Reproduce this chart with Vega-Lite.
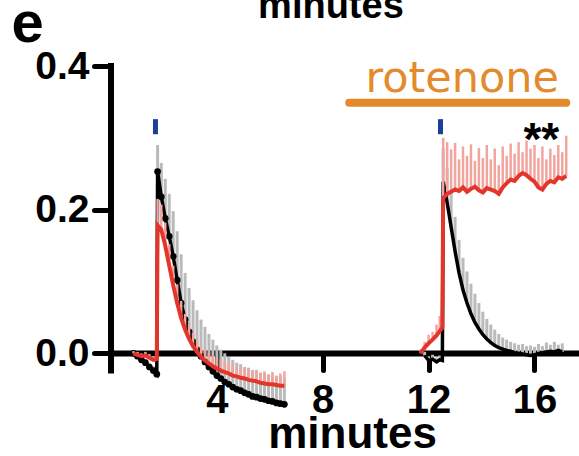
{
"$schema": "https://vega.github.io/schema/vega-lite/v6.json",
"width": 469, "height": 352,
"autosize": {"type": "none"},
"padding": {"left": 111, "top": 66, "right": 0, "bottom": 38},
"background": "white",
"config": {"view": {"stroke": null}, "font": "Liberation Sans"},
"datasets": {
"trace": [
{"s":"control","g":1,"t":0.85,"m":0.0,"u":0.004},
{"s":"control","g":1,"t":1.0,"m":-0.004,"u":0.001},
{"s":"control","g":1,"t":1.15,"m":-0.009,"u":-0.004},
{"s":"control","g":1,"t":1.3,"m":-0.013,"u":-0.008},
{"s":"control","g":1,"t":1.45,"m":-0.019,"u":-0.013},
{"s":"control","g":1,"t":1.6,"m":-0.024,"u":-0.018},
{"s":"control","g":1,"t":1.73,"m":-0.029,"u":-0.022},
{"s":"control","g":1,"t":1.76,"m":0.253,"u":0.29},
{"s":"control","g":1,"t":1.9,"m":0.218,"u":0.265},
{"s":"control","g":1,"t":2.05,"m":0.188,"u":0.243},
{"s":"control","g":1,"t":2.2,"m":0.163,"u":0.222},
{"s":"control","g":1,"t":2.35,"m":0.135,"u":0.198},
{"s":"control","g":1,"t":2.5,"m":0.102,"u":0.17},
{"s":"control","g":1,"t":2.65,"m":0.07,"u":0.138},
{"s":"control","g":1,"t":2.8,"m":0.047,"u":0.112},
{"s":"control","g":1,"t":2.95,"m":0.03,"u":0.091},
{"s":"control","g":1,"t":3.1,"m":0.016,"u":0.074},
{"s":"control","g":1,"t":3.25,"m":0.005,"u":0.06},
{"s":"control","g":1,"t":3.4,"m":-0.004,"u":0.047},
{"s":"control","g":1,"t":3.55,"m":-0.012,"u":0.037},
{"s":"control","g":1,"t":3.7,"m":-0.019,"u":0.027},
{"s":"control","g":1,"t":3.85,"m":-0.025,"u":0.019},
{"s":"control","g":1,"t":4.0,"m":-0.031,"u":0.011},
{"s":"control","g":1,"t":4.15,"m":-0.035,"u":0.005},
{"s":"control","g":1,"t":4.3,"m":-0.04,"u":0.0},
{"s":"control","g":1,"t":4.45,"m":-0.043,"u":-0.005},
{"s":"control","g":1,"t":4.6,"m":-0.047,"u":-0.009},
{"s":"control","g":1,"t":4.75,"m":-0.05,"u":-0.013},
{"s":"control","g":1,"t":4.9,"m":-0.052,"u":-0.015},
{"s":"control","g":1,"t":5.05,"m":-0.055,"u":-0.019},
{"s":"control","g":1,"t":5.2,"m":-0.057,"u":-0.02},
{"s":"control","g":1,"t":5.35,"m":-0.06,"u":-0.023},
{"s":"control","g":1,"t":5.5,"m":-0.061,"u":-0.024},
{"s":"control","g":1,"t":5.65,"m":-0.063,"u":-0.027},
{"s":"control","g":1,"t":5.8,"m":-0.064,"u":-0.027},
{"s":"control","g":1,"t":5.95,"m":-0.066,"u":-0.03},
{"s":"control","g":1,"t":6.1,"m":-0.067,"u":-0.03},
{"s":"control","g":1,"t":6.25,"m":-0.069,"u":-0.032},
{"s":"control","g":1,"t":6.4,"m":-0.07,"u":-0.032},
{"s":"control","g":1,"t":6.55,"m":-0.071,"u":-0.034},
{"s":"rotenone","g":1,"t":0.85,"m":0.0,"u":0.003},
{"s":"rotenone","g":1,"t":1.0,"m":-0.002,"u":0.002},
{"s":"rotenone","g":1,"t":1.15,"m":-0.004,"u":0.0},
{"s":"rotenone","g":1,"t":1.3,"m":-0.003,"u":0.002},
{"s":"rotenone","g":1,"t":1.45,"m":-0.006,"u":-0.001},
{"s":"rotenone","g":1,"t":1.6,"m":-0.009,"u":-0.004},
{"s":"rotenone","g":1,"t":1.73,"m":-0.008,"u":-0.002},
{"s":"rotenone","g":1,"t":1.76,"m":0.178,"u":0.215},
{"s":"rotenone","g":1,"t":1.9,"m":0.172,"u":0.207},
{"s":"rotenone","g":1,"t":2.05,"m":0.15,"u":0.182},
{"s":"rotenone","g":1,"t":2.2,"m":0.122,"u":0.152},
{"s":"rotenone","g":1,"t":2.35,"m":0.095,"u":0.122},
{"s":"rotenone","g":1,"t":2.5,"m":0.07,"u":0.096},
{"s":"rotenone","g":1,"t":2.65,"m":0.049,"u":0.073},
{"s":"rotenone","g":1,"t":2.8,"m":0.033,"u":0.055},
{"s":"rotenone","g":1,"t":2.95,"m":0.02,"u":0.041},
{"s":"rotenone","g":1,"t":3.1,"m":0.01,"u":0.028},
{"s":"rotenone","g":1,"t":3.25,"m":0.002,"u":0.019},
{"s":"rotenone","g":1,"t":3.4,"m":-0.005,"u":0.011},
{"s":"rotenone","g":1,"t":3.55,"m":-0.01,"u":0.005},
{"s":"rotenone","g":1,"t":3.7,"m":-0.014,"u":0.001},
{"s":"rotenone","g":1,"t":3.85,"m":-0.018,"u":-0.003},
{"s":"rotenone","g":1,"t":4.0,"m":-0.021,"u":-0.006},
{"s":"rotenone","g":1,"t":4.15,"m":-0.024,"u":-0.009},
{"s":"rotenone","g":1,"t":4.3,"m":-0.026,"u":-0.012},
{"s":"rotenone","g":1,"t":4.45,"m":-0.028,"u":-0.014},
{"s":"rotenone","g":1,"t":4.6,"m":-0.031,"u":-0.016},
{"s":"rotenone","g":1,"t":4.75,"m":-0.032,"u":-0.019},
{"s":"rotenone","g":1,"t":4.9,"m":-0.034,"u":-0.018},
{"s":"rotenone","g":1,"t":5.05,"m":-0.035,"u":-0.022},
{"s":"rotenone","g":1,"t":5.2,"m":-0.037,"u":-0.021},
{"s":"rotenone","g":1,"t":5.35,"m":-0.038,"u":-0.025},
{"s":"rotenone","g":1,"t":5.5,"m":-0.039,"u":-0.023},
{"s":"rotenone","g":1,"t":5.65,"m":-0.041,"u":-0.027},
{"s":"rotenone","g":1,"t":5.8,"m":-0.042,"u":-0.025},
{"s":"rotenone","g":1,"t":5.95,"m":-0.043,"u":-0.029},
{"s":"rotenone","g":1,"t":6.1,"m":-0.043,"u":-0.026},
{"s":"rotenone","g":1,"t":6.25,"m":-0.044,"u":-0.031},
{"s":"rotenone","g":1,"t":6.4,"m":-0.045,"u":-0.028},
{"s":"rotenone","g":1,"t":6.55,"m":-0.045,"u":-0.025},
{"s":"control","g":2,"t":11.85,"m":-0.003,"u":0.002},
{"s":"control","g":2,"t":12.0,"m":-0.01,"u":-0.004},
{"s":"control","g":2,"t":12.15,"m":-0.008,"u":-0.002},
{"s":"control","g":2,"t":12.3,"m":-0.012,"u":-0.006},
{"s":"control","g":2,"t":12.42,"m":-0.009,"u":-0.003},
{"s":"control","g":2,"t":12.52,"m":-0.01,"u":-0.004},
{"s":"control","g":2,"t":12.55,"m":0.239,"u":0.285},
{"s":"control","g":2,"t":12.7,"m":0.21,"u":0.258},
{"s":"control","g":2,"t":12.85,"m":0.176,"u":0.224},
{"s":"control","g":2,"t":13.0,"m":0.142,"u":0.19},
{"s":"control","g":2,"t":13.15,"m":0.112,"u":0.158},
{"s":"control","g":2,"t":13.3,"m":0.088,"u":0.133},
{"s":"control","g":2,"t":13.45,"m":0.07,"u":0.114},
{"s":"control","g":2,"t":13.6,"m":0.055,"u":0.097},
{"s":"control","g":2,"t":13.75,"m":0.043,"u":0.083},
{"s":"control","g":2,"t":13.9,"m":0.034,"u":0.07},
{"s":"control","g":2,"t":14.05,"m":0.026,"u":0.058},
{"s":"control","g":2,"t":14.2,"m":0.02,"u":0.048},
{"s":"control","g":2,"t":14.35,"m":0.015,"u":0.04},
{"s":"control","g":2,"t":14.5,"m":0.011,"u":0.033},
{"s":"control","g":2,"t":14.65,"m":0.008,"u":0.027},
{"s":"control","g":2,"t":14.8,"m":0.006,"u":0.022},
{"s":"control","g":2,"t":14.95,"m":0.004,"u":0.019},
{"s":"control","g":2,"t":15.1,"m":0.003,"u":0.016},
{"s":"control","g":2,"t":15.25,"m":0.001,"u":0.014},
{"s":"control","g":2,"t":15.4,"m":0.0,"u":0.012},
{"s":"control","g":2,"t":15.55,"m":-0.001,"u":0.013},
{"s":"control","g":2,"t":15.7,"m":-0.002,"u":0.01},
{"s":"control","g":2,"t":15.85,"m":-0.003,"u":0.011},
{"s":"control","g":2,"t":16.0,"m":-0.002,"u":0.009},
{"s":"control","g":2,"t":16.15,"m":0.0,"u":0.013},
{"s":"control","g":2,"t":16.3,"m":0.001,"u":0.01},
{"s":"control","g":2,"t":16.45,"m":0.002,"u":0.015},
{"s":"control","g":2,"t":16.6,"m":0.003,"u":0.012},
{"s":"control","g":2,"t":16.75,"m":0.002,"u":0.016},
{"s":"control","g":2,"t":16.9,"m":0.004,"u":0.012},
{"s":"control","g":2,"t":17.05,"m":0.002,"u":0.014},
{"s":"rotenone","g":2,"t":11.7,"m":0.0,"u":0.006},
{"s":"rotenone","g":2,"t":11.85,"m":0.008,"u":0.016},
{"s":"rotenone","g":2,"t":12.0,"m":0.014,"u":0.026},
{"s":"rotenone","g":2,"t":12.15,"m":0.019,"u":0.03},
{"s":"rotenone","g":2,"t":12.3,"m":0.025,"u":0.04},
{"s":"rotenone","g":2,"t":12.42,"m":0.031,"u":0.052},
{"s":"rotenone","g":2,"t":12.52,"m":0.036,"u":0.058},
{"s":"rotenone","g":2,"t":12.55,"m":0.216,"u":0.3},
{"s":"rotenone","g":2,"t":12.7,"m":0.222,"u":0.294},
{"s":"rotenone","g":2,"t":12.85,"m":0.225,"u":0.284},
{"s":"rotenone","g":2,"t":13.0,"m":0.228,"u":0.293},
{"s":"rotenone","g":2,"t":13.15,"m":0.226,"u":0.27},
{"s":"rotenone","g":2,"t":13.3,"m":0.231,"u":0.288},
{"s":"rotenone","g":2,"t":13.45,"m":0.225,"u":0.275},
{"s":"rotenone","g":2,"t":13.6,"m":0.229,"u":0.291},
{"s":"rotenone","g":2,"t":13.75,"m":0.232,"u":0.268},
{"s":"rotenone","g":2,"t":13.9,"m":0.227,"u":0.286},
{"s":"rotenone","g":2,"t":14.05,"m":0.224,"u":0.272},
{"s":"rotenone","g":2,"t":14.2,"m":0.23,"u":0.29},
{"s":"rotenone","g":2,"t":14.35,"m":0.228,"u":0.27},
{"s":"rotenone","g":2,"t":14.5,"m":0.226,"u":0.285},
{"s":"rotenone","g":2,"t":14.65,"m":0.222,"u":0.262},
{"s":"rotenone","g":2,"t":14.8,"m":0.231,"u":0.288},
{"s":"rotenone","g":2,"t":14.95,"m":0.237,"u":0.275},
{"s":"rotenone","g":2,"t":15.1,"m":0.242,"u":0.292},
{"s":"rotenone","g":2,"t":15.25,"m":0.24,"u":0.278},
{"s":"rotenone","g":2,"t":15.4,"m":0.247,"u":0.294},
{"s":"rotenone","g":2,"t":15.55,"m":0.251,"u":0.28},
{"s":"rotenone","g":2,"t":15.7,"m":0.248,"u":0.296},
{"s":"rotenone","g":2,"t":15.85,"m":0.243,"u":0.285},
{"s":"rotenone","g":2,"t":16.0,"m":0.239,"u":0.29},
{"s":"rotenone","g":2,"t":16.15,"m":0.231,"u":0.272},
{"s":"rotenone","g":2,"t":16.3,"m":0.228,"u":0.288},
{"s":"rotenone","g":2,"t":16.45,"m":0.236,"u":0.27},
{"s":"rotenone","g":2,"t":16.6,"m":0.24,"u":0.285},
{"s":"rotenone","g":2,"t":16.75,"m":0.238,"u":0.276},
{"s":"rotenone","g":2,"t":16.9,"m":0.245,"u":0.29},
{"s":"rotenone","g":2,"t":17.05,"m":0.243,"u":0.28},
{"s":"rotenone","g":2,"t":17.2,"m":0.247,"u":0.303}
],
"notes": [
{"k":"yaxis","t":0,"m":-0.024,"u":0.4},
{"k":"bar","t":9.0,"t2":17.2,"m":0.349},
{"k":"stim","t":1.68,"m":0.305,"u":0.326},
{"k":"stim","t":12.45,"m":0.305,"u":0.326},
{"k":"rot","t":13.27,"m":0.364,"label":"rotenone"},
{"k":"star","t":16.26,"m":0.276,"label":"**"},
{"k":"panel","t":-3.15,"m":0.433,"label":"e"},
{"k":"top","t":8.31,"m":0.467,"label":"minutes"}
]
},
"encoding": {
"x": {"field": "t", "type": "quantitative", "title": "minutes",
 "scale": {"domain": [0, 17.72], "nice": false, "zero": false},
 "axis": {"values": [4, 8, 12, 16], "grid": false, "offset": -65,
  "domainWidth": 6, "domainColor": "black",
  "tickWidth": 5, "tickSize": 17, "tickColor": "black", "tickCap": "round",
  "labelFont": "Liberation Sans", "labelFontWeight": "bold", "labelFontSize": 40, "labelColor": "black",
  "labelBaseline": "alphabetic", "labelPadding": 42, "labelFlush": false, "labelOverlap": false,
  "titleFont": "Liberation Sans", "titleFontWeight": "bold", "titleFontSize": 44, "titleColor": "black",
  "titleBaseline": "alphabetic", "titleAlign": "center", "titleX": 241, "titleY": 94}},
"y": {"field": "m", "type": "quantitative", "title": null,
 "scale": {"domain": [-0.09, 0.4], "nice": false, "zero": false},
 "axis": {"values": [0, 0.2, 0.4], "format": ".1f", "grid": false, "domain": false,
  "tickWidth": 5, "tickSize": 17, "tickColor": "black", "tickCap": "round",
  "labelFont": "Liberation Sans", "labelFontWeight": "bold", "labelFontSize": 39, "labelColor": "black",
  "labelPadding": 5, "labelFlush": false, "labelOverlap": false}}
},
"layer": [
{"data": {"name": "trace"}, "transform": [{"filter": "datum.s == 'control'"}],
 "mark": {"type": "rule", "color": "#bababa", "strokeWidth": 3},
 "encoding": {"y2": {"field": "u"}}},
{"data": {"name": "trace"}, "transform": [{"filter": "datum.s == 'control'"}],
 "mark": {"type": "line", "color": "black", "strokeWidth": 3.5},
 "encoding": {"detail": {"field": "g"}}},
{"data": {"name": "trace"}, "transform": [{"filter": "datum.s == 'control' && datum.g == 1"}],
 "mark": {"type": "point", "filled": true, "color": "black", "size": 45, "opacity": 1},
 "encoding": {}},
{"data": {"name": "trace"}, "transform": [{"filter": "datum.s == 'rotenone'"}],
 "mark": {"type": "rule", "color": "#f2a49e", "strokeWidth": 2.5},
 "encoding": {"y2": {"field": "u"}}},
{"data": {"name": "trace"}, "transform": [{"filter": "datum.s == 'rotenone'"}],
 "mark": {"type": "line", "color": "#e3352a", "strokeWidth": 4},
 "encoding": {"detail": {"field": "g"}}},
{"data": {"name": "notes"}, "transform": [{"filter": "datum.k == 'yaxis'"}],
 "mark": {"type": "rule", "color": "black", "strokeWidth": 6, "strokeCap": "square"},
 "encoding": {"y2": {"field": "u"}}},
{"data": {"name": "notes"}, "transform": [{"filter": "datum.k == 'bar'"}],
 "mark": {"type": "rule", "color": "#e38b2c", "strokeWidth": 8, "strokeCap": "round"},
 "encoding": {"x2": {"field": "t2"}}},
{"data": {"name": "notes"}, "transform": [{"filter": "datum.k == 'stim'"}],
 "mark": {"type": "rule", "color": "#1c3f9a", "strokeWidth": 5},
 "encoding": {"y2": {"field": "u"}}},
{"data": {"name": "notes"}, "transform": [{"filter": "datum.k == 'rot'"}],
 "mark": {"type": "text", "font": "DejaVu Sans", "fontSize": 43, "color": "#e38b2c", "align": "center", "baseline": "alphabetic"},
 "encoding": {"text": {"field": "label"}}},
{"data": {"name": "notes"}, "transform": [{"filter": "datum.k == 'star'"}],
 "mark": {"type": "text", "font": "Liberation Sans", "fontWeight": "bold", "fontSize": 46, "color": "black", "align": "center", "baseline": "alphabetic"},
 "encoding": {"text": {"field": "label"}}},
{"data": {"name": "notes"}, "transform": [{"filter": "datum.k == 'panel'"}],
 "mark": {"type": "text", "font": "Liberation Sans", "fontWeight": "bold", "fontSize": 58, "color": "black", "align": "center", "baseline": "alphabetic"},
 "encoding": {"text": {"field": "label"}}},
{"data": {"name": "notes"}, "transform": [{"filter": "datum.k == 'top'"}],
 "mark": {"type": "text", "font": "Liberation Sans", "fontWeight": "bold", "fontSize": 38, "color": "black", "align": "center", "baseline": "alphabetic"},
 "encoding": {"text": {"field": "label"}}}
]
}
